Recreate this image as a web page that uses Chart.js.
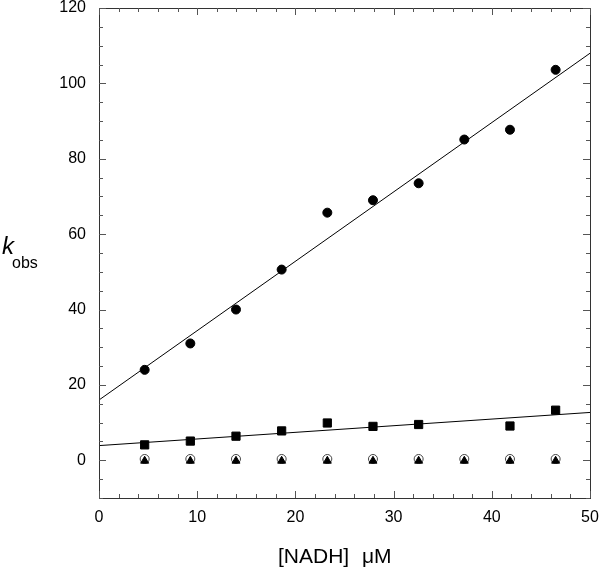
<!DOCTYPE html>
<html>
<head>
<meta charset="utf-8">
<script src="https://cdn.jsdelivr.net/npm/chart.js@4.4.1/dist/chart.umd.min.js"></script>
<style>
  html, body { margin: 0; padding: 0; background: #fff; }
  #wrap { width: 600px; height: 571px; }
</style>
</head>
<body>
<div id="wrap"><canvas id="chart" width="600" height="571"></canvas></div>
<script>
// ==================== DATA ====================
const concNADH = [4.65, 9.3, 13.95, 18.6, 23.25, 27.9, 32.55, 37.2, 41.85, 46.5];
const kobsCircle = [24.0, 31.0, 40.0, 50.6, 65.7, 69.0, 73.5, 85.1, 87.7, 103.6];
const kobsSquare = [4.1, 5.1, 6.4, 7.8, 9.9, 9.0, 9.5, null, 9.1, 13.3];
const kobsOpen = [0.35, 0.35, 0.35, 0.35, 0.35, 0.35, 0.35, 0.35, 0.35, 0.35];
const kobsTriangle = [-0.15, -0.15, -0.15, -0.15, -0.15, -0.15, -0.15, -0.15, -0.15, -0.15];

const fitX = [0, 50];
const fitCircleY = [16.0, 108.0];
const fitSquareY = [3.9, 12.7];

const xTickLabels = [0, 10, 20, 30, 40, 50];
const yTickLabels = [0, 20, 40, 60, 80, 100, 120];
const xMinorStep = 2;
const yMinorStep = 5;

const FONT = '"Liberation Sans", Arial, Helvetica, sans-serif';

const pts = (xs, ys) => xs.map((x, i) => ({ x: x, y: ys[i] })).filter(p => p.y !== null);

// ==================== FRAME / TICKS PLUGIN ====================
const framePlugin = {
    id: "frame",
    afterDraw(chart) {
        const ctx = chart.ctx;
        const a = chart.chartArea;
        const xs = chart.scales.x;
        const ys = chart.scales.y;
        ctx.save();
        ctx.strokeStyle = "#333";
        ctx.lineWidth = 1;
        ctx.strokeRect(Math.round(a.left) + 0.5, Math.round(a.top) + 0.5,
            Math.round(a.right - a.left), Math.round(a.bottom - a.top));

        ctx.beginPath();
        for (let v = xs.min; v <= xs.max + 1e-9; v += xMinorStep) {
            const px = Math.round(xs.getPixelForValue(v)) + 0.5;
            const len = (v % 10 === 0) ? 7 : 4;
            ctx.moveTo(px, a.bottom); ctx.lineTo(px, a.bottom - len);
            ctx.moveTo(px, a.top); ctx.lineTo(px, a.top + len);
        }
        for (let v = ys.min; v <= ys.max + 1e-9; v += yMinorStep) {
            const py = Math.round(ys.getPixelForValue(v)) + 0.5;
            const len = (v % 20 === 0) ? 7 : 4;
            ctx.moveTo(a.left, py); ctx.lineTo(a.left + len, py);
            ctx.moveTo(a.right, py); ctx.lineTo(a.right - len, py);
        }
        ctx.strokeStyle = "#555";
        ctx.stroke();

        ctx.fillStyle = "#000";
        ctx.font = "16px " + FONT;
        ctx.textAlign = "center";
        ctx.textBaseline = "middle";
        for (const v of xTickLabels) {
            ctx.fillText(String(v), xs.getPixelForValue(v), a.bottom + 20);
        }
        ctx.textAlign = "right";
        for (const v of yTickLabels) {
            ctx.fillText(String(v), a.left - 13, ys.getPixelForValue(v));
        }

        // x axis title, unit set a little apart
        ctx.font = "21px " + FONT;
        ctx.textBaseline = "alphabetic";
        ctx.textAlign = "left";
        ctx.fillText("[NADH]", 278, 563);
        ctx.fillText("\u03BCM", 362, 563);

        ctx.textBaseline = "middle";
        ctx.font = "italic 24px " + FONT;
        ctx.fillText("k", 2, 247);
        ctx.font = "16px " + FONT;
        ctx.fillText("obs", 12, 264);
        ctx.restore();
    }
};

// ==================== CHART ====================
const marker = (style, r, fill, border) => ({
    showLine: false,
    pointStyle: style,
    pointRadius: r,
    pointHoverRadius: r,
    pointBackgroundColor: fill,
    pointBorderColor: border,
    pointBorderWidth: 1,
});

new Chart(document.getElementById("chart"), {
    type: "scatter",
    data: {
        datasets: [
            { label: "circle", data: pts(concNADH, kobsCircle), ...marker("circle", 4.5, "#000", "#000") },
            { label: "square", data: pts(concNADH, kobsSquare), ...marker("rect", 5.8, "#000", "#000") },
            { label: "triangle", data: pts(concNADH, kobsTriangle), ...marker("triangle", 4.6, "#000", "#000") },
            { label: "open", data: pts(concNADH, kobsOpen), ...marker("circle", 4.5, "rgba(255,255,255,0)", "#444") },
            {
                label: "fit1", data: pts(fitX, fitCircleY), showLine: true,
                borderColor: "#000", borderWidth: 1, pointRadius: 0, fill: false,
            },
            {
                label: "fit2", data: pts(fitX, fitSquareY), showLine: true,
                borderColor: "#000", borderWidth: 1, pointRadius: 0, fill: false,
            },
        ]
    },
    options: {
        responsive: false,
        animation: false,
        devicePixelRatio: 1,
        layout: { padding: { left: 99, right: 10, top: 8, bottom: 73 } },
        plugins: {
            legend: { display: false },
            tooltip: { enabled: false },
        },
        scales: {
            x: { type: "linear", min: 0, max: 50, display: false },
            y: { type: "linear", min: -10, max: 120, display: false },
        },
    },
    plugins: [framePlugin],
});
</script>
</body>
</html>
